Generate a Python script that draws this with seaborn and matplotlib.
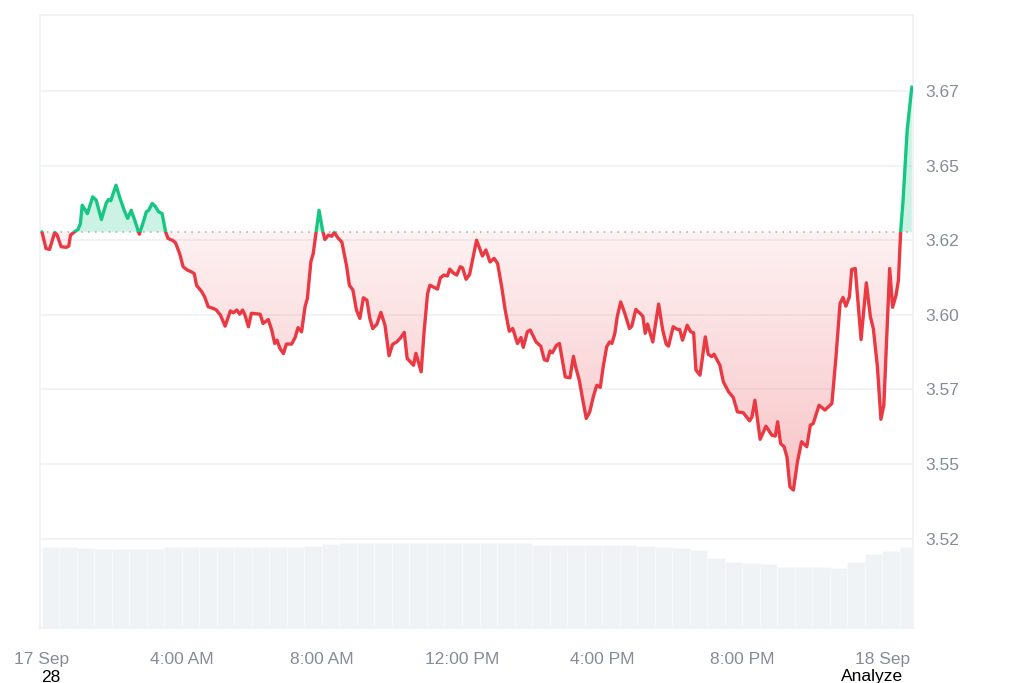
import numpy as np
import pandas as pd
import seaborn as sns
import matplotlib.pyplot as plt
from matplotlib.patches import Rectangle
from matplotlib.path import Path

# minutes since 00:00 17 Sep
times = [
    0, 7, 13, 22, 26, 33, 42, 46, 49, 56,
    62, 66, 69, 78, 87, 93, 102, 110, 114, 118,
    127, 133, 142, 147, 153, 159, 167, 173, 179, 183,
    189, 194, 200, 206, 212, 216, 225, 229, 236, 242,
    249, 256, 261, 265, 274, 279, 285, 294, 299, 306,
    314, 323, 328, 334, 339, 344, 348, 354, 359, 374,
    379, 388, 394, 399, 403, 408, 414, 419, 428, 434,
    439, 445, 451, 455, 461, 465, 470, 475, 481, 485,
    491, 497, 501, 508, 514, 522, 527, 533, 539, 545,
    551, 557, 562, 567, 574, 581, 588, 595, 601, 608,
    614, 621, 626, 637, 641, 650, 655, 661, 665, 678,
    683, 689, 695, 699, 704, 711, 717, 721, 727, 733,
    745, 755, 761, 768, 775, 781, 788, 794, 801, 807,
    815, 821, 825, 832, 837, 847, 855, 861, 866, 871,
    875, 882, 887, 897, 905, 911, 915, 921, 927, 933,
    939, 945, 951, 957, 962, 968, 973, 977, 982, 986,
    992, 999, 1007, 1011, 1018, 1025, 1030, 1034, 1038, 1047,
    1057, 1064, 1070, 1074, 1082, 1089, 1093, 1098, 1106, 1112,
    1117, 1121, 1128, 1137, 1142, 1148, 1152, 1162, 1168, 1177,
    1185, 1192, 1202, 1213, 1217, 1222, 1231, 1241, 1251, 1257,
    1261, 1266, 1272, 1277, 1282, 1288, 1295, 1302, 1311, 1317,
    1322, 1332, 1342, 1354, 1361, 1368, 1373, 1378, 1384, 1388,
    1394, 1404, 1413, 1420, 1425, 1432, 1438, 1443, 1453, 1458,
    1464, 1468, 1472, 1476, 1483, 1491,
]

prices = [
    3.6278, 3.6222, 3.6219, 3.6276, 3.6267, 3.6228, 3.6226, 3.6230, 3.6267, 3.6278,
    3.6286, 3.6306, 3.6367, 3.6339, 3.6395, 3.6384, 3.6319, 3.6373, 3.6386, 3.6382,
    3.6434, 3.6395, 3.6345, 3.6323, 3.6350, 3.6317, 3.6270, 3.6306, 3.6345, 3.6350,
    3.6373, 3.6364, 3.6345, 3.6339, 3.6278, 3.6256, 3.6248, 3.6241, 3.6205, 3.6161,
    3.6150, 3.6144, 3.6138, 3.6099, 3.6077, 3.6060, 3.6027, 3.6021, 3.6016, 3.5999,
    3.5962, 3.6013, 3.6007, 3.6016, 3.6002, 3.6016, 3.5999, 3.5960, 3.6005, 3.6002,
    3.5971, 3.5984, 3.5948, 3.5904, 3.5915, 3.5887, 3.5870, 3.5902, 3.5902, 3.5924,
    3.5957, 3.5943, 3.6027, 3.6055, 3.6178, 3.6205, 3.6278, 3.6350, 3.6283, 3.6252,
    3.6267, 3.6263, 3.6276, 3.6256, 3.6244, 3.6166, 3.6099, 3.6083, 3.6016, 3.5988,
    3.6057, 3.6049, 3.5988, 3.5954, 3.5968, 3.6008, 3.5965, 3.5863, 3.5901, 3.5909,
    3.5921, 3.5941, 3.5854, 3.5831, 3.5871, 3.5809, 3.5943, 3.6071, 3.6099, 3.6086,
    3.6124, 3.6133, 3.6130, 3.6153, 3.6142, 3.6133, 3.6161, 3.6157, 3.6119, 3.6135,
    3.6250, 3.6197, 3.6217, 3.6177, 3.6189, 3.6172, 3.6094, 3.6016, 3.5945, 3.5954,
    3.5904, 3.5924, 3.5891, 3.5943, 3.5949, 3.5909, 3.5895, 3.5850, 3.5846, 3.5879,
    3.5873, 3.5898, 3.5904, 3.5792, 3.5789, 3.5861, 3.5824, 3.5781, 3.5715, 3.5653,
    3.5675, 3.5725, 3.5764, 3.5757, 3.5826, 3.5893, 3.5909, 3.5904, 3.5938, 3.5993,
    3.6043, 3.6005, 3.5954, 3.5962, 3.6018, 3.6005, 3.5995, 3.5938, 3.5969, 3.5909,
    3.6036, 3.5949, 3.5902, 3.5895, 3.5960, 3.5951, 3.5951, 3.5915, 3.5965, 3.5943,
    3.5940, 3.5815, 3.5798, 3.5926, 3.5868, 3.5860, 3.5868, 3.5831, 3.5775, 3.5742,
    3.5723, 3.5675, 3.5672, 3.5645, 3.5658, 3.5714, 3.5583, 3.5627, 3.5597, 3.5594,
    3.5642, 3.5569, 3.5558, 3.5524, 3.5424, 3.5413, 3.5508, 3.5575, 3.5558, 3.5630,
    3.5636, 3.5697, 3.5681, 3.5703, 3.5859, 3.6038, 3.6058, 3.6029, 3.6060, 3.6152,
    3.6155, 3.5917, 3.6107, 3.5993, 3.5954, 3.5826, 3.5650, 3.5697, 3.6155, 3.6025,
    3.6066, 3.6116, 3.6283, 3.6384, 3.6618, 3.6763,
]

# 30-minute volume bars (millions)
vol_times = list(range(0, 1500, 30))
volumes = [
    48.6, 48.6, 48.0, 47.4, 47.4, 47.4, 47.4, 48.6, 48.6, 48.6,
    48.6, 48.6, 48.6, 48.6, 48.6, 49.2, 50.4, 51.0, 51.0, 51.0,
    51.0, 51.0, 51.0, 51.0, 51.0, 51.0, 51.0, 51.0, 49.8, 49.8,
    49.8, 49.8, 49.8, 49.8, 49.2, 48.6, 48.0, 46.8, 42.0, 39.6,
    39.0, 38.4, 36.6, 36.6, 36.6, 36.0, 39.6, 44.4, 46.2, 48.6,
]

tick_pos = [0, 240, 480, 720, 960, 1200, 1440]
tick_labels = ["17 Sep", "4:00 AM", "8:00 AM", "12:00 PM", "4:00 PM", "8:00 PM", "18 Sep"]
ytick_pos = [3.525, 3.55, 3.575, 3.60, 3.625, 3.65, 3.675]
ytick_labels = ["3.52", "3.55", "3.57", "3.60", "3.62", "3.65", "3.67"]

RED = "#ea3943"
GREEN = "#16c784"
GRID = "#eff2f5"
TXT = "#858c98"


def main():
    sns.set_theme(style="white")
    plt.rcParams["font.family"] = ["Liberation Sans", "DejaVu Sans"]

    df = pd.DataFrame({"t": times, "price": prices})
    base = prices[0]
    t = np.array(times, dtype=float)
    p = np.array(prices)

    fig = plt.figure(figsize=(10.24, 6.83), dpi=100)
    ax = fig.add_axes([0.039, 0.0805, 0.8526, 0.8975])
    ax2 = ax.twinx()

    # volume
    ax2.bar(vol_times, volumes, width=30, align="edge", color="#f0f3f6",
            edgecolor="#f9fafb", linewidth=0.4)
    ax2.set_ylim(0, 367.8)
    ax2.set_yticks([])
    for s in ax2.spines.values():
        s.set_visible(False)

    ax.set_zorder(ax2.get_zorder() + 1)
    ax.patch.set_visible(False)

    xmin, xmax = -3.4, 1493
    ymin, ymax = 3.4951, 3.7004

    # gridlines
    for y in ytick_pos:
        ax.axhline(y, color=GRID, lw=1.2, zorder=0)

    # fills
    ax.fill_between(t, p, base, where=p >= base, interpolate=True,
                    color=GREEN, alpha=0.22, linewidth=0, zorder=1)
    red_poly = ax.fill_between(t, p, base, where=p <= base, interpolate=True,
                               facecolor="none", linewidth=0, zorder=1)
    paths = red_poly.get_paths()
    clip = Path.make_compound_path(*paths)
    grad = np.zeros((256, 1, 4))
    grad[..., 0] = 234 / 255
    grad[..., 1] = 57 / 255
    grad[..., 2] = 67 / 255
    grad[:, 0, 3] = np.linspace(0.30, 0.07, 256)
    im = ax.imshow(grad, extent=[t.min(), t.max(), p.min(), base],
                   origin="lower", aspect="auto", zorder=1)
    im.set_clip_path(clip, transform=ax.transData)

    # baseline
    ax.axhline(base, color="#a3a9b3", lw=1.1, ls=(0, (1, 3.5)), zorder=2)

    # price line, red below / green above the open
    sns.lineplot(data=df, x="t", y="price", color=RED, lw=2.4, ax=ax, zorder=3)
    sns.lineplot(data=df, x="t", y="price", color=GREEN, lw=2.4, ax=ax, zorder=3)
    red_line, green_line = ax.lines[-2], ax.lines[-1]
    red_line.set_solid_capstyle("round")
    green_line.set_solid_capstyle("round")
    red_line.set_clip_path(Rectangle((xmin, ymin), xmax - xmin, base - ymin,
                                     transform=ax.transData))
    green_line.set_clip_path(Rectangle((xmin, base), xmax - xmin, ymax - base,
                                       transform=ax.transData))

    ax.set_xlim(xmin, xmax)
    ax.set_ylim(ymin, ymax)
    ax2.set_xlim(xmin, xmax)

    ax.yaxis.tick_right()
    ax.set_yticks(ytick_pos)
    ax.set_yticklabels(ytick_labels)
    ax.set_xticks(tick_pos)
    ax.set_xticklabels(tick_labels)
    ax.tick_params(axis="y", length=0, pad=9, labelsize=12.5, labelcolor=TXT)
    ax.tick_params(axis="x", length=0, pad=17, labelsize=12.5, labelcolor=TXT)
    ax.set_xlabel("")
    ax.set_ylabel("")
    for s in ax.spines.values():
        s.set_color(GRID)
        s.set_linewidth(1.2)

    fig.text(51 / 1024, 1 - 677 / 683, "28", ha="center", va="center",
             fontsize=12.5, color="black")
    fig.text(872 / 1024, 1 - 677 / 683, "Analyze", ha="center", va="center",
             fontsize=12.5, color="black")

    plt.savefig("out.png", dpi=100)


if __name__ == "__main__":
    main()
